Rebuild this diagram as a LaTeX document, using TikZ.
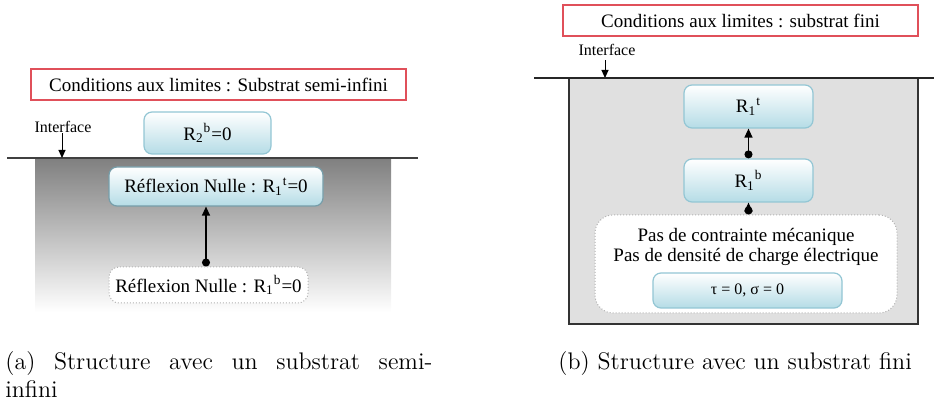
\documentclass[tikz,border=0pt]{standalone}
\usepackage{fontspec}
\newfontfamily\diagfont{Liberation Serif}
\usetikzlibrary{arrows.meta,calc}
\definecolor{redline}{HTML}{E0505A}
\definecolor{blueedge}{HTML}{93C6D4}
\definecolor{bluebot}{HTML}{B5DCE6}
\definecolor{substrate}{HTML}{E0E0E0}
\tikzset{
  titlebox/.style={draw=redline, line width=0.6pt, fill=white, inner sep=0pt, font=\diagfont\fontsize{9.5}{11}\selectfont},
  bluebox/.style={draw=blueedge, line width=0.6pt, rounded corners=4pt, top color=white, bottom color=bluebot, inner sep=0pt, font=\diagfont\fontsize{9.5}{11}\selectfont},
  dotbox/.style={draw=gray!60, densely dotted, line width=0.5pt, rounded corners=5pt, fill=white, inner sep=0pt, font=\diagfont\fontsize{9.5}{11}\selectfont},
  smalltext/.style={inner sep=0pt, font=\diagfont\fontsize{8}{9}\selectfont},
  conn/.style={line width=0.6pt, {Circle[length=4pt]}-{Triangle[length=4.5pt,width=4pt]}},
  downarrow/.style={line width=0.5pt, -{Triangle[length=4pt,width=3.5pt]}},
  caption/.style={inner sep=0pt, font=\fontsize{12}{14}\selectfont}
}
\begin{document}
\begin{tikzpicture}[x=0.5pt,y=-0.5pt]
\useasboundingbox (0,0) rectangle (934,405);
% ---------------- Left panel ----------------
\shade[top color=black!50, bottom color=white, middle color=black!25] (35,158) rectangle (391,312);
\node[titlebox, minimum width=187.5pt, minimum height=15.5pt] (titleA) at (218.5,84.5) {Conditions aux limites : Substrat semi-infini};
\coordinate (lineAl) at (7,158);
\coordinate (lineAr) at (418,158);
\draw[line width=0.6pt, black!75] (lineAl) -- (lineAr);
\node[smalltext] (intA) at (63,127) {Interface};
\coordinate (intAend) at (62,158);
\draw[downarrow] (intA.south -| intAend) -- (intAend);
\node[bluebox, minimum width=63.5pt, minimum height=21pt] (r2b) at (207.5,133) {R\textsubscript{2}\textsuperscript{b}=0};
\node[bluebox, draw=blueedge!80!black, minimum width=107pt, minimum height=19.5pt] (r1tA) at (216,186.5) {Réflexion Nulle : R\textsubscript{1}\textsuperscript{t}=0};
\node[dotbox, minimum width=99.5pt, minimum height=18pt] (r1bA) at (208.5,285) {Réflexion Nulle : R\textsubscript{1}\textsuperscript{b}=0};
\coordinate (axA) at (206,0);
\draw[conn] (axA |- r1bA.north) -- (axA |- r1tA.south);
% ---------------- Right panel ----------------
\node[titlebox, minimum width=177.5pt, minimum height=15.5pt] (titleB) at (740.5,20.5) {Conditions aux limites : substrat fini};
\node[smalltext] (intB) at (607,50) {Interface};
\coordinate (intBend) at (605,78);
\draw[downarrow] ($(intB.south -| intBend)+(0,4)$) -- (intBend);
\draw[fill=substrate, draw=black!80, line width=0.6pt] (569,78) rectangle (918,324);
\coordinate (lineBl) at (534,78);
\coordinate (lineBr) at (934,78);
\draw[line width=0.6pt, black!85] (lineBl) -- (lineBr);
\node[bluebox, minimum width=64.5pt, minimum height=21.5pt] (r1tB) at (748.5,106.5) {R\textsubscript{1}\textsuperscript{t}};
\node[bluebox, minimum width=64.5pt, minimum height=21.5pt] (r1bB) at (748.5,180.5) {R\textsubscript{1}\textsuperscript{b}};
\node[dotbox, rounded corners=9pt, minimum width=151pt, minimum height=49pt] (condB) at (746,264) {};
\node[inner sep=0pt, font=\diagfont\fontsize{9.5}{11}\selectfont, align=center] (condtxt) at (746,247) {Pas de contrainte mécanique\\[-1pt]Pas de densité de charge électrique};
\node[bluebox, minimum width=94.5pt, minimum height=17.5pt, font=\diagfont\fontsize{8}{9}\selectfont] (tauB) at (747.5,290.5) {τ = 0, σ = 0};
\draw[conn] (r1bB.north) -- (r1tB.south);
\draw[conn] (r1bB.south |- condB.north) -- (r1bB.south);
% ---------------- Captions ----------------
\node[caption, anchor=base west, text width=213.5pt, align=justify] (capA) at (5,370) {(a) Structure avec un substrat semi-\linebreak infini};
\node[caption, anchor=base west] (capB) at (558,370) {(b) Structure avec un substrat fini};
\end{tikzpicture}
\end{document}
